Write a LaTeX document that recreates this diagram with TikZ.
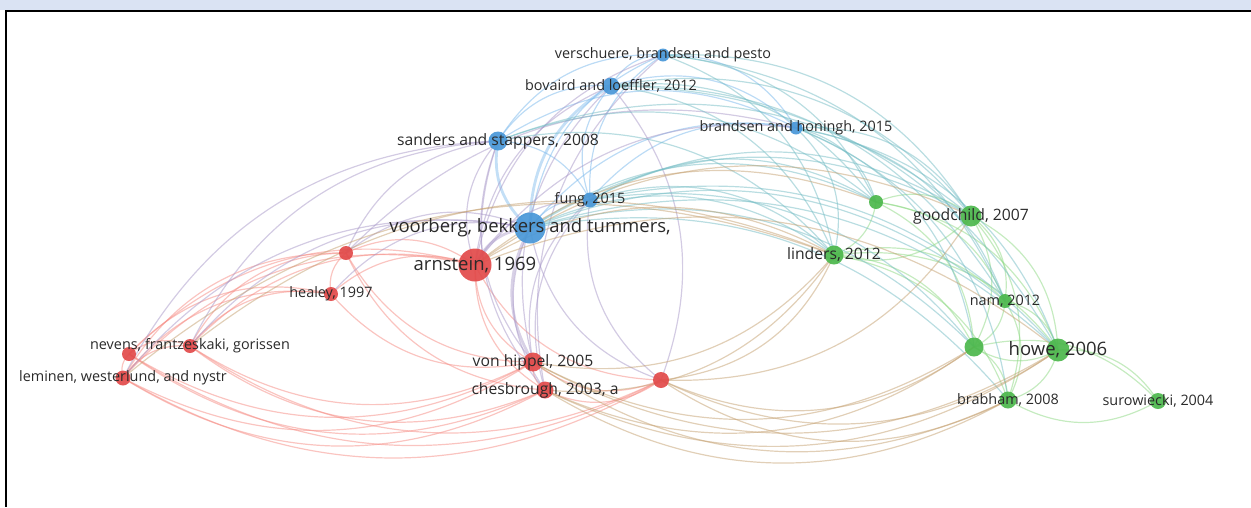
\documentclass[tikz,border=0pt]{standalone}
\usepackage{fontspec}
\setmainfont{Open Sans}
\usetikzlibrary{calc}
\pgfdeclarelayer{links}
\pgfsetlayers{links,main}

\definecolor{bandblue}{HTML}{DAE3F3}
\definecolor{cblue}{HTML}{4A98D8}
\definecolor{cred}{HTML}{E24B4B}
\definecolor{cgreen}{HTML}{4DB84D}
\definecolor{eblue}{HTML}{7AB8EC}
\definecolor{ered}{HTML}{F58A82}
\definecolor{egreen}{HTML}{8CD882}
\definecolor{ebr}{HTML}{A898C8}
\definecolor{ebg}{HTML}{74BCC4}
\definecolor{erg}{HTML}{C4A070}
\definecolor{txt}{HTML}{2A2A2A}

% curved link that bows away from the map centre (ctr)
\newcommand\lk[3]{%
  \draw[#1] let \p1=(#2.center), \p2=(#3.center), \p3=(ctr),
    \n1={ifthenelse((((\y1-\y2)/100)*(((\x1+\x2)/2-\x3)/100)+((\x2-\x1)/100)*(((\y1+\y2)/2-\y3)/100))>0,30,-30)}
    in (#2.center) to[bend left=\n1] (#3.center);}

\begin{document}
\begin{tikzpicture}[x=1pt,y=-1pt,
  dot/.style={circle,inner sep=0pt,minimum size=#1,draw=none,fill opacity=.93},
  bn/.style={dot=#1,fill=cblue},
  rn/.style={dot=#1,fill=cred},
  gn/.style={dot=#1,fill=cgreen},
  lab/.style={text=txt,inner sep=0pt,font=\fontsize{14.4}{14.4}\selectfont},
  labm/.style={lab,font=\fontsize{15.7}{15.7}\selectfont},
  labb/.style={lab,font=\fontsize{18.5}{18.5}\selectfont},
  link/.style={line width=1.2pt,draw opacity=.5},
  B/.style={link,draw=eblue},
  R/.style={link,draw=ered},
  G/.style={link,draw=egreen},
  BR/.style={link,draw=ebr},
  BG/.style={link,draw=ebg},
  RG/.style={link,draw=erg},
  thick link/.style={line width=2.8pt,draw opacity=.45}]

\useasboundingbox (0,0) rectangle (1251,507);
\fill[bandblue] (0,0) rectangle (1251,10);
\draw[line width=2pt] (5,11) -- (1251,11);
\draw[line width=1.8pt] (6,10) -- (6,507);

\coordinate (ctr) at (640,290);

% blue cluster
\node[bn=13] (ver) at (663,55) {};
\node[bn=17] (bov) at (611,86) {};
\node[bn=13] (bra) at (796,128) {};
\node[bn=19] (san) at (498,141) {};
\node[bn=15] (fun) at (590,200) {};
\node[bn=31] (voo) at (530,228) {};
% red cluster
\node[rn=33] (arn) at (475,265) {};
\node[rn=14] (r1)  at (346,253) {};
\node[rn=14] (hea) at (331,294) {};
\node[rn=14] (nev) at (190,346) {};
\node[rn=14] (r2)  at (129,354) {};
\node[rn=15] (lem) at (123,378) {};
\node[rn=19] (von) at (533,362) {};
\node[rn=17] (che) at (545,390) {};
\node[rn=16] (r3)  at (661,380) {};
% green cluster
\node[gn=14] (g1)  at (876,202) {};
\node[gn=21] (goo) at (971,216) {};
\node[gn=19] (lin) at (834,255) {};
\node[gn=14] (nam) at (1005,301) {};
\node[gn=19] (g2)  at (974,347) {};
\node[gn=23] (how) at (1058,350) {};
\node[gn=17] (brb) at (1008,400) {};
\node[gn=16] (sur) at (1158,401) {};

\begin{pgfonlayer}{links}
% within blue
\lk{B}{ver}{bov} \lk{B}{ver}{bra} \lk{B}{ver}{san} \lk{B}{ver}{fun} \lk{B}{ver}{voo}
\lk{B}{bov}{bra} \lk{B}{bov}{san} \lk{B}{bov}{fun} \lk{B,thick link}{bov}{voo}
\lk{B}{bra}{san} \lk{B}{bra}{fun} \lk{B}{bra}{voo}
\lk{B}{san}{fun} \lk{B,thick link}{san}{voo} \lk{B}{fun}{voo}
% within red
\lk{R}{arn}{r1} \lk{R}{arn}{hea} \lk{R}{arn}{nev} \lk{R}{arn}{r2} \lk{R}{arn}{lem}
\lk{R}{arn}{von} \lk{R}{arn}{che} \lk{R}{arn}{r3}
\lk{R}{r1}{hea} \lk{R}{r1}{nev} \lk{R}{r1}{lem} \lk{R}{r1}{von} \lk{R}{r1}{che}
\lk{R}{hea}{nev} \lk{R}{hea}{lem} \lk{R}{hea}{r2} \lk{R}{hea}{von}
\lk{R}{nev}{r2} \lk{R}{nev}{lem} \lk{R}{nev}{von} \lk{R}{nev}{che} \lk{R}{nev}{r3}
\lk{R}{r2}{lem} \lk{R}{r2}{che} \lk{R}{r2}{von} \lk{R}{r2}{r3}
\lk{R}{lem}{von} \lk{R}{lem}{che} \lk{R}{lem}{r3}
\lk{R}{von}{che} \lk{R}{von}{r3} \lk{R}{che}{r3}
% within green
\lk{G}{g1}{goo} \lk{G}{g1}{lin} \lk{G}{g1}{nam} \lk{G}{g1}{how} \lk{G}{g1}{g2}
\lk{G}{goo}{lin} \lk{G}{goo}{nam} \lk{G}{goo}{g2} \lk{G}{goo}{how} \lk{G}{goo}{brb}
\lk{G}{lin}{nam} \lk{G}{lin}{g2} \lk{G}{lin}{how} \lk{G}{lin}{brb}
\lk{G}{nam}{g2} \lk{G}{nam}{how} \lk{G}{nam}{brb}
\lk{G}{g2}{how} \lk{G}{g2}{brb} \lk{G}{how}{brb}
\lk{G}{how}{sur} \lk{G}{brb}{sur} \lk{G}{g2}{sur}
% blue -- red
\lk{BR,thick link}{voo}{arn} \lk{BR}{voo}{r1} \lk{BR}{voo}{hea} \lk{BR}{voo}{nev}
\lk{BR}{voo}{lem} \lk{BR,thick link}{voo}{von} \lk{BR}{voo}{che} \lk{BR}{voo}{r3}
\lk{BR}{san}{arn} \lk{BR}{san}{lem} \lk{BR}{san}{nev} \lk{BR}{san}{r1}
\lk{BR}{san}{von} \lk{BR}{san}{che}
\lk{BR}{bov}{arn} \lk{BR}{bov}{von} \lk{BR}{bov}{r3}
\lk{BR}{fun}{arn} \lk{BR}{fun}{von} \lk{BR}{fun}{che} \lk{BR}{fun}{r3}
\lk{BR}{bra}{arn} \lk{BR}{bra}{r1} \lk{BR}{ver}{arn} \lk{BR}{ver}{che}
% blue -- green
\lk{BG}{ver}{goo} \lk{BG}{ver}{lin} \lk{BG}{ver}{g1} \lk{BG}{ver}{nam}
\lk{BG}{bov}{goo} \lk{BG}{bov}{lin} \lk{BG}{bov}{g1} \lk{BG}{bov}{how} \lk{BG}{bov}{nam}
\lk{BG}{bra}{goo} \lk{BG}{bra}{lin} \lk{BG}{bra}{g1} \lk{BG}{bra}{how} \lk{BG}{bra}{nam}
\lk{BG}{bra}{g2} \lk{BG}{bra}{brb}
\lk{BG}{san}{lin} \lk{BG}{san}{goo} \lk{BG}{san}{g1}
\lk{BG}{fun}{lin} \lk{BG}{fun}{goo} \lk{BG}{fun}{g1} \lk{BG}{fun}{how} \lk{BG}{fun}{g2}
\lk{BG}{voo}{lin} \lk{BG}{voo}{goo} \lk{BG}{voo}{g1} \lk{BG}{voo}{how} \lk{BG}{voo}{g2}
\lk{BG}{voo}{nam} \lk{BG}{voo}{brb}
% red -- green
\lk{RG}{arn}{lin} \lk{RG}{arn}{goo} \lk{RG}{arn}{how} \lk{RG}{arn}{g1}
\lk{RG}{che}{brb} \lk{RG}{che}{how} \lk{RG}{che}{g2} \lk{RG}{che}{lin}
\lk{RG}{von}{brb} \lk{RG}{von}{how} \lk{RG}{von}{g2} \lk{RG}{von}{lin}
\lk{RG}{r3}{brb} \lk{RG}{r3}{how} \lk{RG}{r3}{lin} \lk{RG}{r3}{g2} \lk{RG}{r3}{goo}
\lk{RG}{lem}{lin} \lk{RG}{nev}{lin}
\end{pgfonlayer}

% labels, centred on their circles
\node[lab]  (ver-l) at (ver) {verschuere, brandsen and pesto};
\node[lab]  (bov-l) at (bov) {bovaird and loeffler, 2012};
\node[lab]  (bra-l) at (bra) {brandsen and honingh, 2015};
\node[labm] (san-l) at (san) {sanders and stappers, 2008};
\node[lab]  (fun-l) at (fun) {fung, 2015};
\node[labb] (voo-l) at (voo) {voorberg, bekkers and tummers,};
\node[labb] (arn-l) at (arn) {arnstein, 1969};
\node[lab]  (hea-l) at (hea) {healey, 1997};
\node[lab]  (nev-l) at (nev) {nevens, frantzeskaki, gorissen};
\node[lab]  (lem-l) at (lem) {leminen, westerlund, and nystr};
\node[labm] (von-l) at (von) {von hippel, 2005};
\node[labm] (che-l) at (che) {chesbrough, 2003, a};
\node[labm] (goo-l) at (goo) {goodchild, 2007};
\node[labm] (lin-l) at (lin) {linders, 2012};
\node[lab]  (nam-l) at (nam) {nam, 2012};
\node[labb] (how-l) at (how) {howe, 2006};
\node[lab]  (brb-l) at (brb) {brabham, 2008};
\node[lab]  (sur-l) at (sur) {surowiecki, 2004};
\end{tikzpicture}
\end{document}
